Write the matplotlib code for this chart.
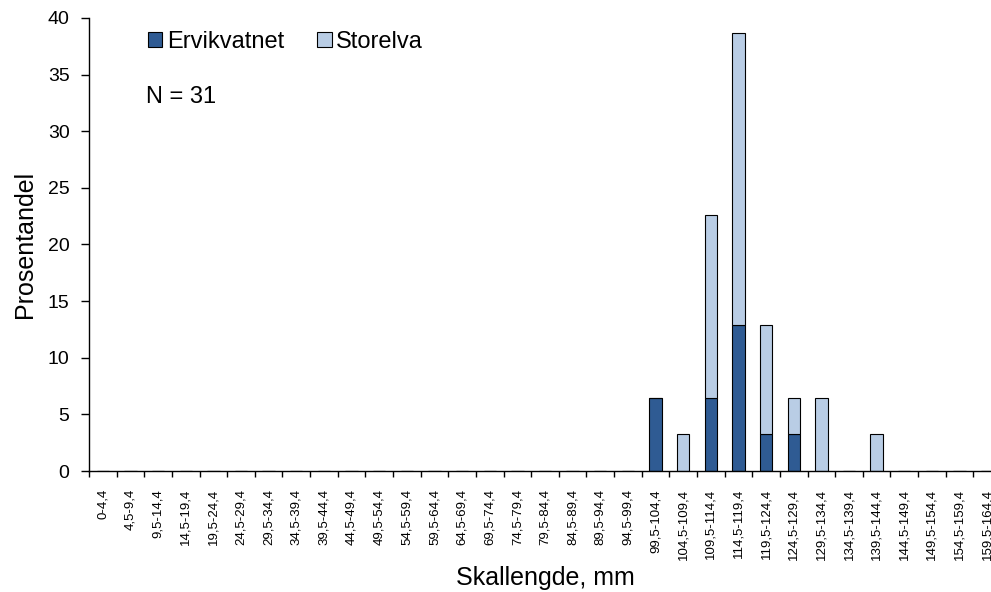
import numpy as np
from matplotlib import pyplot as plt

# size classes (mm), Excel-style labels with decimal comma
lower = [0] + [4.5 + 5 * i for i in range(32)]
categories = ['0-4,4'] + ['%s-%s' % (('%.1f' % lo).replace('.', ','), ('%.1f' % (lo + 4.9)).replace('.', ','))
                          for lo in lower[1:]]

# percent of fish (N = 31)
ervikvatnet = {'99,5-104,4': 6.45, '109,5-114,4': 6.45, '114,5-119,4': 12.9,
               '119,5-124,4': 3.23, '124,5-129,4': 3.23}
storelva = {'104,5-109,4': 3.23, '109,5-114,4': 16.13, '114,5-119,4': 25.81,
            '119,5-124,4': 9.68, '124,5-129,4': 3.23, '129,5-134,4': 6.45,
            '139,5-144,4': 3.23}


def plotter():
    plt.rcParams['font.family'] = ['Liberation Sans', 'DejaVu Sans']
    erv = np.array([ervikvatnet.get(c, 0) for c in categories])
    sto = np.array([storelva.get(c, 0) for c in categories])
    x = np.arange(len(categories))

    fig = plt.figure(figsize=(9.91, 5.92), dpi=100)
    ax = fig.add_axes([89 / 991, 121 / 592, 912 / 991, 453 / 592])

    ax.bar(x, erv, width=0.45, color='#2f5b93', edgecolor='black', linewidth=0.8, label='Ervikvatnet')
    ax.bar(x, sto, width=0.45, bottom=erv, color='#b9cde5', edgecolor='black', linewidth=0.8, label='Storelva')

    ax.set_xlim(-0.5, len(categories) - 0.5)
    ax.set_ylim(0, 40)
    ax.set_yticks(range(0, 41, 5))
    ax.set_xticks(x)
    ax.set_xticklabels(categories, rotation=90, fontsize=9.5)
    ax.set_xticks(np.arange(-0.5, len(categories), 1), minor=True)
    ax.tick_params(axis='x', which='major', length=0, pad=13)
    ax.tick_params(axis='x', which='minor', length=4, direction='out', width=1)
    ax.tick_params(axis='y', labelsize=14, length=6, direction='out', width=1, pad=8)
    for s in ['top', 'right']:
        ax.spines[s].set_visible(False)
    ax.spines['left'].set_linewidth(1)
    ax.spines['bottom'].set_linewidth(1)

    ax.set_ylabel('Prosentandel', fontsize=18, labelpad=8)
    ax.set_xlabel('Skallengde, mm', fontsize=18, labelpad=4)
    ax.legend(loc='center left', bbox_to_anchor=(0.052, 0.947), ncol=2, frameon=False, fontsize=17,
              handlelength=0.6, handleheight=0.6, handletextpad=0.2, columnspacing=1.4, borderpad=0)
    ax.text(0.063, 0.826, 'N = 31', transform=ax.transAxes, fontsize=17, va='center')

    fig.savefig('out.png', dpi=100)


if __name__ == '__main__':
    plotter()
